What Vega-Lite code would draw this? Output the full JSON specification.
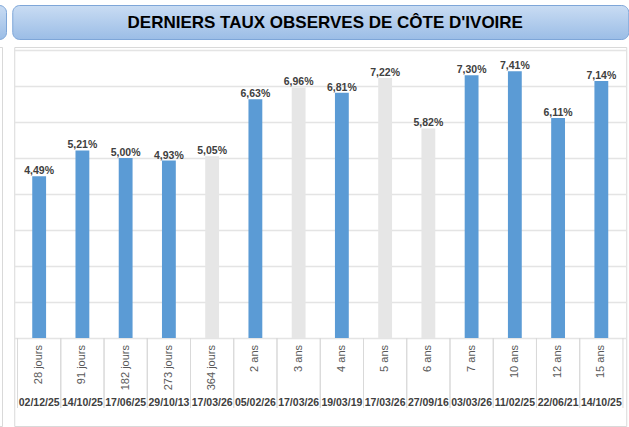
{
  "$schema": "https://vega.github.io/schema/vega-lite/v6.json",
  "padding": {"left": -12, "top": 4, "right": 4, "bottom": 0},
  "background": "white",
  "spacing": 4,
  "config": {
    "font": "Liberation Sans",
    "locale": {"number": {"decimal": ",", "thousands": " ", "grouping": [3], "currency": ["", " €"]}},
    "view": {"stroke": null}
  },
  "datasets": {
    "taux": [
      {"echeance": "28 jours", "date": "02/12/25", "taux": 0.0449, "statut": "recent"},
      {"echeance": "91 jours", "date": "14/10/25", "taux": 0.0521, "statut": "recent"},
      {"echeance": "182 jours", "date": "17/06/25", "taux": 0.0500, "statut": "recent"},
      {"echeance": "273 jours", "date": "29/10/13", "taux": 0.0493, "statut": "recent"},
      {"echeance": "364 jours", "date": "17/03/26", "taux": 0.0505, "statut": "autre"},
      {"echeance": "2 ans", "date": "05/02/26", "taux": 0.0663, "statut": "recent"},
      {"echeance": "3 ans", "date": "17/03/26", "taux": 0.0696, "statut": "autre"},
      {"echeance": "4 ans", "date": "19/03/19", "taux": 0.0681, "statut": "recent"},
      {"echeance": "5 ans", "date": "17/03/26", "taux": 0.0722, "statut": "autre"},
      {"echeance": "6 ans", "date": "27/09/16", "taux": 0.0582, "statut": "autre"},
      {"echeance": "7 ans", "date": "03/03/26", "taux": 0.0730, "statut": "recent"},
      {"echeance": "10 ans", "date": "11/02/25", "taux": 0.0741, "statut": "recent"},
      {"echeance": "12 ans", "date": "22/06/21", "taux": 0.0611, "statut": "recent"},
      {"echeance": "15 ans", "date": "14/10/25", "taux": 0.0714, "statut": "recent"}
    ],
    "titre": [{"t": "DERNIERS TAUX OBSERVES DE CÔTE D'IVOIRE"}],
    "vide": [{"t": ""}]
  },
  "hconcat": [
    {
      "spacing": 6,
      "vconcat": [
        {
          "width": 17,
          "height": 34,
          "view": {
            "fill": {"gradient": "linear", "x1": 0, "y1": 0, "x2": 0, "y2": 1,
                     "stops": [{"offset": 0, "color": "#c9dcf3"}, {"offset": 1, "color": "#9bbde6"}]},
            "stroke": "#7ea6d8",
            "strokeWidth": 1,
            "cornerRadius": 7
          },
          "data": {"name": "vide"},
          "mark": {"type": "text"},
          "encoding": {"text": {"field": "t"}}
        },
        {
          "width": 13,
          "height": 379,
          "view": {"stroke": "#d9d9d9", "strokeWidth": 1, "fill": "white"},
          "data": {"name": "vide"},
          "mark": {"type": "text"},
          "encoding": {"text": {"field": "t"}}
        }
      ]
    },
    {
      "spacing": 6,
      "center": true,
      "vconcat": [
        {
          "width": 616,
          "height": 34,
          "view": {
            "fill": {"gradient": "linear", "x1": 0, "y1": 0, "x2": 0, "y2": 1,
                     "stops": [{"offset": 0, "color": "#c9dcf3"}, {"offset": 1, "color": "#9bbde6"}]},
            "stroke": "#7ea6d8",
            "strokeWidth": 1,
            "cornerRadius": 7
          },
          "data": {"name": "titre"},
          "mark": {"type": "text", "font": "Liberation Sans", "fontSize": 17, "fontWeight": "bold", "color": "#000000", "baseline": "middle", "dx": 5, "dy": 1},
          "encoding": {"text": {"field": "t"}}
        },
        {
          "width": 612,
          "height": 379,
          "view": {"stroke": "#d9d9d9", "strokeWidth": 1, "fill": "white"},
          "data": {"name": "taux"},
          "layer": [
            {
              "mark": {"type": "bar", "width": {"band": 0.32}},
              "encoding": {
                "x": {"field": "echeance", "type": "nominal", "sort": null,
                      "scale": {"paddingInner": 0, "paddingOuter": 0.076}, "axis": null},
                "y": {"field": "taux", "type": "quantitative",
                      "scale": {"domain": [-0.02444, 0.08083], "nice": false, "zero": false},
                      "axis": {"values": [0, 0.01, 0.02, 0.03, 0.04, 0.05, 0.06, 0.07, 0.08], "grid": true, "gridColor": "#e4e4e4", "gridWidth": 1.5,
                               "labels": false, "ticks": false, "domain": false, "title": null}},
                "y2": {"datum": 0},
                "color": {"field": "statut", "type": "nominal",
                          "scale": {"domain": ["recent", "autre"], "range": ["#5b9bd5", "#e6e6e6"]}, "legend": null}
              }
            },
            {
              "mark": {"type": "text", "font": "Liberation Sans", "fontSize": 10.5, "fontWeight": "bold", "color": "#404040", "baseline": "alphabetic", "dy": -2},
              "encoding": {
                "x": {"field": "echeance", "type": "nominal", "sort": null},
                "y": {"field": "taux", "type": "quantitative"},
                "text": {"field": "taux", "type": "quantitative", "format": ".2%"}
              }
            },
            {
              "mark": {"type": "rule", "color": "#d9d9d9", "strokeWidth": 1},
              "encoding": {
                "x": {"field": "echeance", "type": "nominal", "sort": null, "bandPosition": 0},
                "y": {"datum": 0},
                "y2": {"datum": -0.01944}
              }
            },
            {
              "mark": {"type": "rule", "color": "#d9d9d9", "strokeWidth": 1},
              "encoding": {
                "x": {"field": "echeance", "type": "nominal", "sort": null, "bandPosition": 1},
                "y": {"datum": 0},
                "y2": {"datum": -0.01944}
              }
            },
            {
              "mark": {"type": "text", "font": "Liberation Sans", "fontSize": 11, "color": "#595959", "angle": 270, "align": "right", "baseline": "middle"},
              "encoding": {
                "x": {"field": "echeance", "type": "nominal", "sort": null},
                "y": {"datum": -0.00194},
                "text": {"field": "echeance"}
              }
            },
            {
              "mark": {"type": "text", "font": "Liberation Sans", "fontSize": 10.5, "fontWeight": "bold", "color": "#404040", "baseline": "middle"},
              "encoding": {
                "x": {"field": "echeance", "type": "nominal", "sort": null},
                "y": {"datum": -0.01806},
                "text": {"field": "date"}
              }
            }
          ]
        }
      ]
    }
  ]
}
